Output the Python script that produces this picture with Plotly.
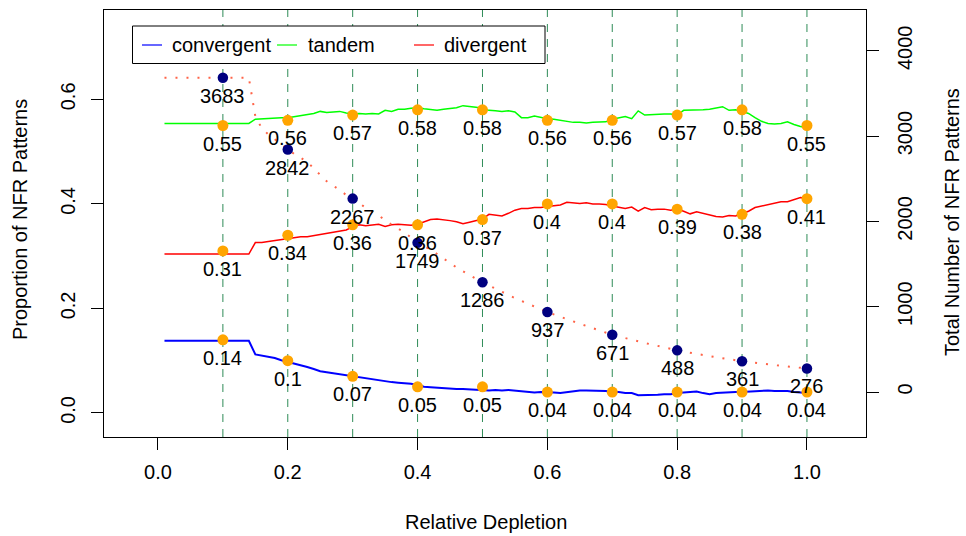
import plotly.graph_objects as go

# ---- data -------------------------------------------------------------
# fine grid of relative depletion values (0.01 .. 1.00)
depletion = [round(0.01 * i, 2) for i in range(1, 101)]

convergent = [
    0.138, 0.138, 0.138, 0.138, 0.138, 0.138, 0.138, 0.138, 0.138, 0.138,
    0.138, 0.138, 0.138, 0.138, 0.112, 0.110, 0.108, 0.105, 0.101, 0.098,
    0.095, 0.092, 0.088, 0.084, 0.080, 0.078, 0.076, 0.074, 0.072, 0.070,
    0.068, 0.066, 0.065, 0.063, 0.060, 0.059, 0.058, 0.057, 0.056, 0.053,
    0.050, 0.049, 0.048, 0.047, 0.047, 0.046, 0.046, 0.045, 0.045, 0.044,
    0.043, 0.044, 0.043, 0.044, 0.043, 0.042, 0.040, 0.039, 0.040, 0.040,
    0.039, 0.038, 0.040, 0.042, 0.043, 0.043, 0.043, 0.043, 0.042, 0.040,
    0.040, 0.038, 0.038, 0.034, 0.034, 0.034, 0.035, 0.036, 0.036, 0.038,
    0.039, 0.039, 0.041, 0.038, 0.036, 0.038, 0.039, 0.040, 0.040, 0.040,
    0.041, 0.042, 0.042, 0.043, 0.042, 0.042, 0.042, 0.040, 0.039, 0.038,
]

tandem = [
    0.554, 0.554, 0.554, 0.554, 0.554, 0.554, 0.554, 0.554, 0.554, 0.554,
    0.554, 0.554, 0.554, 0.554, 0.562, 0.563, 0.564, 0.565, 0.565, 0.565,
    0.567, 0.569, 0.571, 0.573, 0.577, 0.575, 0.576, 0.577, 0.574, 0.572,
    0.573, 0.572, 0.573, 0.572, 0.579, 0.577, 0.581, 0.581, 0.583, 0.584,
    0.582, 0.580, 0.579, 0.581, 0.583, 0.584, 0.588, 0.587, 0.585, 0.583,
    0.579, 0.578, 0.577, 0.578, 0.576, 0.565, 0.565, 0.568, 0.565, 0.563,
    0.562, 0.560, 0.558, 0.556, 0.556, 0.555, 0.556, 0.556, 0.557, 0.562,
    0.565, 0.567, 0.563, 0.578, 0.570, 0.571, 0.571, 0.572, 0.572, 0.570,
    0.579, 0.579, 0.579, 0.580, 0.581, 0.583, 0.586, 0.579, 0.580, 0.577,
    0.573, 0.565, 0.558, 0.554, 0.553, 0.554, 0.557, 0.552, 0.548, 0.546,
]

divergent = [
    0.304, 0.304, 0.304, 0.304, 0.304, 0.304, 0.304, 0.304, 0.304, 0.304,
    0.304, 0.304, 0.304, 0.304, 0.326, 0.326, 0.328, 0.330, 0.332, 0.334,
    0.335, 0.337, 0.337, 0.339, 0.342, 0.344, 0.345, 0.347, 0.350, 0.356,
    0.360, 0.358, 0.360, 0.361, 0.357, 0.360, 0.361, 0.360, 0.359, 0.361,
    0.366, 0.370, 0.371, 0.370, 0.368, 0.366, 0.362, 0.365, 0.368, 0.371,
    0.380, 0.379, 0.377, 0.382, 0.388, 0.391, 0.391, 0.393, 0.393, 0.395,
    0.396, 0.398, 0.403, 0.402, 0.401, 0.402, 0.400, 0.400, 0.399, 0.396,
    0.393, 0.391, 0.394, 0.386, 0.393, 0.389, 0.390, 0.390, 0.388, 0.390,
    0.386, 0.381, 0.385, 0.382, 0.380, 0.376, 0.375, 0.378, 0.377, 0.381,
    0.386, 0.393, 0.396, 0.399, 0.401, 0.404, 0.404, 0.408, 0.412, 0.410,
]

# total number of NFR patterns along depletion
total_depletion = [0.01, 0.14, 0.15, 0.16, 0.17, 0.18, 0.19, 0.20, 0.21, 0.22,
                   0.23, 0.24, 0.25, 0.26, 0.27, 0.28, 0.29, 0.30, 0.32, 0.34,
                   0.36, 0.38, 0.40, 0.42, 0.44, 0.46, 0.48, 0.50, 0.55, 0.60,
                   0.65, 0.70, 0.75, 0.80, 0.85, 0.90, 0.95, 1.00]
total_curve = [3683, 3683, 3230, 3090, 3020, 2960, 2900, 2842, 2790, 2745,
               2700, 2620, 2544, 2470, 2420, 2360, 2310, 2267, 2160, 2070,
               1960, 1870, 1749, 1670, 1560, 1460, 1370, 1286, 1100, 937,
               800, 671, 575, 488, 420, 361, 315, 276]

# summary points at every 0.1 of depletion
checkpoints = [0.1, 0.2, 0.3, 0.4, 0.5, 0.6, 0.7, 0.8, 0.9, 1.0]
convergent_at = [0.14, 0.1, 0.07, 0.05, 0.05, 0.04, 0.04, 0.04, 0.04, 0.04]
tandem_at = [0.55, 0.56, 0.57, 0.58, 0.58, 0.56, 0.56, 0.57, 0.58, 0.55]
divergent_at = [0.31, 0.34, 0.36, 0.36, 0.37, 0.4, 0.4, 0.39, 0.38, 0.41]
total_at = [3683, 2842, 2267, 1749, 1286, 937, 671, 488, 361, 276]

series_names = ["convergent", "tandem", "divergent"]
series_colors = ["#0000FF", "#00FF00", "#FF0000"]

x_ticks = [0.0, 0.2, 0.4, 0.6, 0.8, 1.0]
left_ticks = [0.0, 0.2, 0.4, 0.6]
right_ticks = [0, 1000, 2000, 3000, 4000]

# ---- layout geometry --------------------------------------------------
W, H = 966, 536
M_L, M_R, M_T, M_B = 104, 100, 10, 99
PW, PH = W - M_L - M_R, H - M_T - M_B


def px_x(px):
    return (px - M_L) / PW


def px_y(py):
    return (H - M_B - py) / PH


FONT = "Liberation Sans, Arial, Helvetica, sans-serif"
FS = 20

fig = go.Figure()

# proportion curves
for name, col, vals, wid in zip(series_names, series_colors,
                                [convergent, tandem, divergent], [2, 1.5, 1.5]):
    fig.add_trace(go.Scatter(x=depletion, y=vals, mode="lines", name=name,
                             line=dict(color=col, width=wid), showlegend=False,
                             hoverinfo="skip"))

# orange checkpoint markers
for vals in [convergent_at, tandem_at, divergent_at]:
    fig.add_trace(go.Scatter(x=checkpoints, y=vals, mode="markers",
                             marker=dict(color="#FFA500", size=11),
                             showlegend=False))

# total count curve (right axis)
fig.add_trace(go.Scatter(x=total_depletion, y=total_curve, mode="lines",
                         yaxis="y2", line=dict(color="#FF6347", width=2, dash="2px,9px"),
                         showlegend=False))
fig.add_trace(go.Scatter(x=checkpoints, y=total_at, mode="markers", yaxis="y2",
                         marker=dict(color="#000080", size=10.5),
                         showlegend=False))

annotations = []
for vals in [convergent_at, tandem_at, divergent_at]:
    for xv, yv in zip(checkpoints, vals):
        annotations.append(dict(x=xv, y=yv, xref="x", yref="y", text=f"{yv:g}",
                                showarrow=False, yshift=-18, yanchor="middle",
                                font=dict(family=FONT, size=FS, color="black")))
for xv, yv in zip(checkpoints, total_at):
    annotations.append(dict(x=xv, y=yv, xref="x", yref="y2", text=f"{yv:g}",
                            showarrow=False, yshift=-18, yanchor="middle",
                            font=dict(family=FONT, size=FS, color="black")))

# axis titles
annotations.append(dict(x=px_x(486), y=px_y(522), xref="paper", yref="paper",
                        text="Relative Depletion", showarrow=False,
                        xanchor="center", yanchor="middle",
                        font=dict(family=FONT, size=FS, color="black")))
annotations.append(dict(x=px_x(20), y=px_y(220), xref="paper", yref="paper",
                        text="Proportion of NFR Patterns", showarrow=False, textangle=-90,
                        xanchor="center", yanchor="middle",
                        font=dict(family=FONT, size=FS, color="black")))
annotations.append(dict(x=px_x(952), y=px_y(222), xref="paper", yref="paper",
                        text="Total Number of NFR Patterns", showarrow=False, textangle=-90,
                        xanchor="center", yanchor="middle",
                        font=dict(family=FONT, size=FS, color="black")))

shapes = []
# vertical dashed guides at each checkpoint
for xv in checkpoints:
    shapes.append(dict(type="line", xref="x", yref="paper", x0=xv, x1=xv, y0=0, y1=1,
                       layer="below", line=dict(color="#2E8B57", width=1, dash="8px,7px")))

# legend box
shapes.append(dict(type="rect", xref="paper", yref="paper",
                   x0=px_x(132.5), x1=px_x(545), y0=px_y(63.5), y1=px_y(26),
                   line=dict(color="black", width=1), fillcolor="white", layer="above"))
legend_line_px = [142, 277, 414]
legend_text_px = [170, 305.5, 442]
for name, col, lx, tx in zip(series_names, series_colors, legend_line_px, legend_text_px):
    shapes.append(dict(type="line", xref="paper", yref="paper",
                       x0=px_x(lx), x1=px_x(lx + 20), y0=px_y(45), y1=px_y(45),
                       line=dict(color=col, width=1.2), layer="above"))
    annotations.append(dict(x=px_x(tx), y=px_y(45), xref="paper", yref="paper",
                            text=name, showarrow=False, xanchor="left", yanchor="middle",
                            font=dict(family=FONT, size=FS, color="black")))

axis_common = dict(showgrid=False, zeroline=False, ticks="outside", ticklen=12,
                   tickcolor="black", tickwidth=1, showline=True, linecolor="black",
                   linewidth=1, tickfont=dict(family=FONT, size=FS, color="black"))

fig.update_layout(
    width=W, height=H, autosize=False,
    margin=dict(l=M_L, r=M_R, t=M_T, b=M_B),
    paper_bgcolor="white", plot_bgcolor="white",
    showlegend=False,
    xaxis=dict(range=[-0.0832, 1.091], tickvals=x_ticks, tickformat=".1f",
               mirror=True, ticklabelstandoff=5, **axis_common),
    yaxis=dict(range=[-0.046, 0.771], tickvals=left_ticks, tickformat=".1f",
               tickangle=-90, mirror=True, ticklabelstandoff=8, **axis_common),
    yaxis2=dict(range=[-527.5, 4478], tickvals=right_ticks, overlaying="y",
                side="right", anchor="x", tickangle=-90, ticklabelstandoff=9,
                **axis_common),
    shapes=shapes,
    annotations=annotations,
)

fig.write_html("out.html")
